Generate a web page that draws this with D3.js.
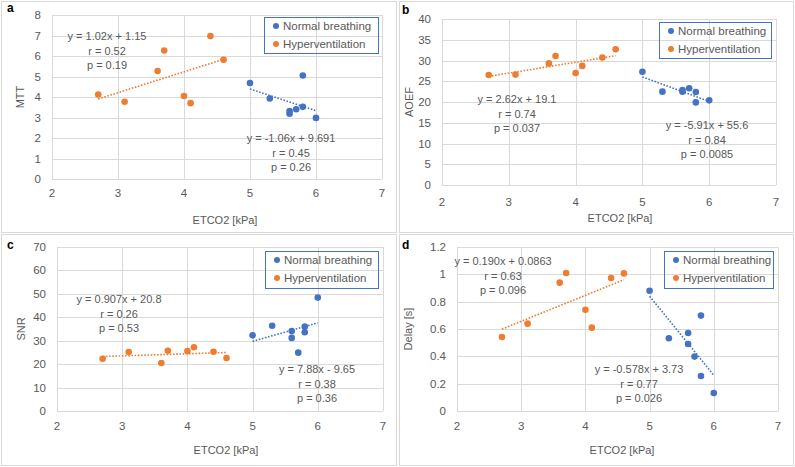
<!DOCTYPE html>
<html>
<head>
<meta charset="utf-8">
<script src="https://cdn.jsdelivr.net/npm/d3@7"></script>
<style>
  body { margin: 0; background: #fff; }
  svg { display: block; font-family: "Liberation Sans", Arial, sans-serif; }
</style>
</head>
<body>
<svg id="chart" width="795" height="467"></svg>
<script>
// ETCO2 values for the two groups (same subjects in every panel)
const etco2Normal = [5.0, 5.3, 5.6, 5.6, 5.7, 5.8, 5.8, 6.0];
const etco2Hyper = [2.7, 3.1, 3.6, 3.7, 4.0, 4.1, 4.4, 4.6];

const mttNormal = [4.68, 3.93, 3.32, 3.18, 3.40, 5.05, 3.52, 2.98];
const mttHyper = [4.12, 3.77, 5.27, 6.27, 4.05, 3.70, 6.97, 5.82];

const aoefNormal = [27.3, 22.5, 22.5, 22.9, 23.3, 22.4, 19.9, 20.4];
const aoefHyper = [26.5, 26.6, 29.3, 31.1, 27.0, 28.7, 30.7, 32.7];

const snrNormal = [32.3, 36.4, 34.1, 31.2, 24.9, 36.0, 33.6, 48.4];
const snrHyper = [22.3, 25.2, 20.5, 25.7, 25.6, 27.2, 25.3, 22.6];

const delayNormal = [0.88, 0.532, 0.571, 0.49, 0.398, 0.698, 0.256, 0.132];
const delayHyper = [0.541, 0.639, 0.939, 1.01, 0.741, 0.61, 0.973, 1.007];

// trendline coefficients [slope, intercept], as printed on the chart
const fitNormal = [[-1.06, 9.691], [-5.91, 55.6], [7.88, -9.65], [-0.578, 3.73]];
const fitHyper = [[1.02, 1.15], [2.62, 19.1], [0.907, 20.8], [0.190, 0.0863]];

const labelsNormal = [
  ["y = -1.06x + 9.691", "r = 0.45", "p = 0.26"],
  ["y = -5.91x + 55.6", "r = 0.84", "p = 0.0085"],
  ["y = 7.88x - 9.65", "r = 0.38", "p = 0.36"],
  ["y = -0.578x + 3.73", "r = 0.77", "p = 0.026"]
];
const labelsHyper = [
  ["y = 1.02x + 1.15", "r = 0.52", "p = 0.19"],
  ["y = 2.62x + 19.1", "r = 0.74", "p = 0.037"],
  ["y = 0.907x + 20.8", "r = 0.26", "p = 0.53"],
  ["y = 0.190x + 0.0863", "r = 0.63", "p = 0.096"]
];

const panelNames = ["a", "b", "c", "d"];
const yTitles = ["MTT", "AOEF", "SNR", "Delay [s]"];
const yTicks = [
  [0, 1, 2, 3, 4, 5, 6, 7, 8],
  [0, 5, 10, 15, 20, 25, 30, 35, 40],
  [0, 10, 20, 30, 40, 50, 60, 70],
  [0, 0.2, 0.4, 0.6, 0.8, 1, 1.2]
];
const xTicks = [2, 3, 4, 5, 6, 7];
const seriesNames = ["Normal breathing", "Hyperventilation"];

const normalValues = [mttNormal, aoefNormal, snrNormal, delayNormal];
const hyperValues = [mttHyper, aoefHyper, snrHyper, delayHyper];

const BLUE = "#4472C4";
const ORANGE = "#ED7D31";
const GRID = "#d9d9d9";
const TEXT = "#595959";

// layout of each panel (absolute pixels)
const layouts = [
  {box: [1, 1, 395, 231], plot: [52, 382, 15, 179], label: [7, 12],
   ytitle: [20, 97], xtitle: [225, 224], tickY: 197,
   legend: [264, 17, 114, 36], noteH: [107, 40], noteN: [291, 142]},
  {box: [399, 1, 394, 231], plot: [442, 776, 19, 185], label: [402, 14],
   ytitle: [409, 102], xtitle: [620, 222], tickY: 206,
   legend: [659, 22, 112, 36], noteH: [517, 103], noteN: [707, 129]},
  {box: [1, 234, 395, 231], plot: [57, 383, 247, 411], label: [7, 249],
   ytitle: [21, 329], xtitle: [226, 454], tickY: 430,
   legend: [265, 251, 113, 37], noteH: [119, 303], noteN: [317, 373]},
  {box: [399, 234, 394, 231], plot: [457, 778, 247, 411], label: [402, 249],
   ytitle: [408, 329], xtitle: [622, 454], tickY: 430,
   legend: [664, 251, 109, 37], noteH: [503, 265], noteN: [639, 373]}
];

const svg = d3.select("#chart");

layouts.forEach((L, i) => {
  const g = svg.append("g");

  g.append("rect")
    .attr("x", L.box[0] + 0.5).attr("y", L.box[1] + 0.5)
    .attr("width", L.box[2]).attr("height", L.box[3])
    .attr("fill", "#fff").attr("stroke", GRID);

  const yt = yTicks[i];
  const x = d3.scaleLinear().domain([2, 7]).range([L.plot[0], L.plot[1]]);
  const y = d3.scaleLinear().domain([0, yt[yt.length - 1]]).range([L.plot[3], L.plot[2]]);

  // grid
  g.selectAll(".hg").data(yt).enter().append("line")
    .attr("x1", L.plot[0]).attr("x2", L.plot[1])
    .attr("y1", d => Math.round(y(d)) + 0.5).attr("y2", d => Math.round(y(d)) + 0.5)
    .attr("stroke", GRID);
  g.selectAll(".vg").data(xTicks).enter().append("line")
    .attr("y1", L.plot[2]).attr("y2", L.plot[3])
    .attr("x1", d => Math.round(x(d)) + 0.5).attr("x2", d => Math.round(x(d)) + 0.5)
    .attr("stroke", GRID);

  // tick labels
  g.selectAll(".yl").data(yt).enter().append("text")
    .attr("x", L.plot[0] - 11).attr("y", d => y(d) + 4)
    .attr("text-anchor", "end").attr("font-size", "11.5px").attr("fill", TEXT)
    .text(d => d3.format("~g")(d));
  g.selectAll(".xl").data(xTicks).enter().append("text")
    .attr("x", d => x(d)).attr("y", L.tickY)
    .attr("text-anchor", "middle").attr("font-size", "11.5px").attr("fill", TEXT)
    .text(d => d);

  // axis titles
  g.append("text")
    .attr("x", L.xtitle[0]).attr("y", L.xtitle[1])
    .attr("text-anchor", "middle").attr("font-size", "11px").attr("fill", TEXT)
    .text("ETCO2 [kPa]");
  g.append("text")
    .attr("transform", `translate(${L.ytitle[0] + 4}, ${L.ytitle[1]}) rotate(-90)`)
    .attr("text-anchor", "middle").attr("font-size", "11px").attr("fill", TEXT)
    .text(yTitles[i]);

  // panel letter
  g.append("text")
    .attr("x", L.label[0]).attr("y", L.label[1])
    .attr("font-size", "12px").attr("font-weight", "bold").attr("fill", "#000")
    .text(panelNames[i]);

  // trendlines (dotted)
  const line = d3.line().x(d => x(d[0])).y(d => y(d[1]));
  const trend = (xs, fit, color) => {
    const x0 = d3.min(xs), x1 = d3.max(xs);
    g.append("path")
      .attr("d", line([[x0, fit[0] * x0 + fit[1]], [x1, fit[0] * x1 + fit[1]]]))
      .attr("stroke", color).attr("stroke-width", 1.6)
      .attr("stroke-dasharray", "1.6,1.6").attr("fill", "none");
  };
  trend(etco2Hyper, fitHyper[i], ORANGE);
  trend(etco2Normal, fitNormal[i], BLUE);

  // points
  const drawPoints = (xs, ys, color) => {
    g.selectAll(null).data(xs.map((v, k) => [v, ys[k]])).enter().append("circle")
      .attr("cx", d => x(d[0])).attr("cy", d => y(d[1]))
      .attr("r", 3.3).attr("fill", color);
  };
  drawPoints(etco2Normal, normalValues[i], BLUE);
  drawPoints(etco2Hyper, hyperValues[i], ORANGE);

  // regression notes
  const note = (pos, lines) => {
    g.selectAll(null).data(lines).enter().append("text")
      .attr("x", pos[0]).attr("y", (d, k) => pos[1] + k * 14.5)
      .attr("text-anchor", "middle").attr("font-size", "11px").attr("fill", TEXT)
      .text(d => d);
  };
  note(L.noteH, labelsHyper[i]);
  note(L.noteN, labelsNormal[i]);

  // legend
  const lg = L.legend;
  g.append("rect")
    .attr("x", lg[0] + 0.5).attr("y", lg[1] + 0.5)
    .attr("width", lg[2]).attr("height", lg[3])
    .attr("fill", "none").attr("stroke", BLUE);
  [BLUE, ORANGE].forEach((c, k) => {
    const cy = lg[1] + 9 + k * 18;
    g.append("circle").attr("cx", lg[0] + 12).attr("cy", cy).attr("r", 3).attr("fill", c);
    g.append("text")
      .attr("x", lg[0] + 19).attr("y", cy + 4)
      .attr("font-size", "11.5px").attr("fill", TEXT)
      .text(seriesNames[k]);
  });
});
</script>
</body>
</html>
